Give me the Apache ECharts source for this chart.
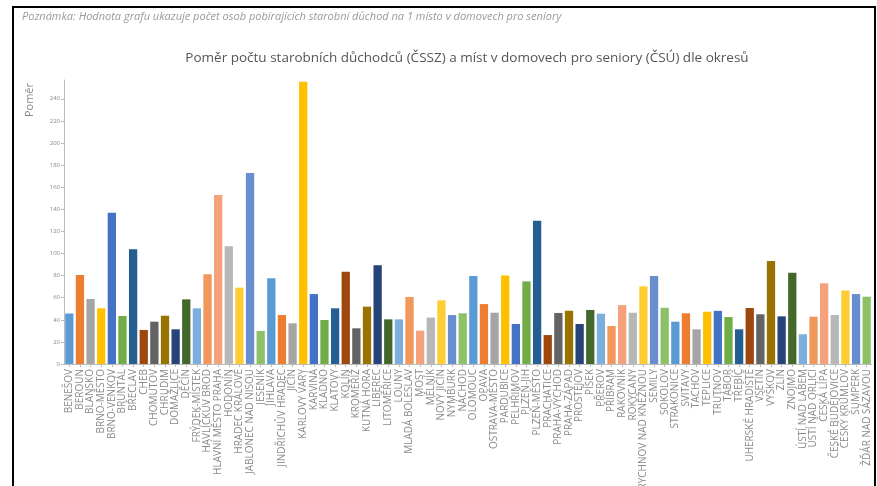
<!DOCTYPE html>
<html>
<head>
<meta charset="utf-8">
<script src="https://cdn.jsdelivr.net/npm/echarts@6/dist/echarts.min.js"></script>
<style>
html,body{margin:0;padding:0;background:#fff;}
#c{width:877px;height:486px;}
</style>
</head>
<body>
<div id="c"></div>
<script>
const noteText = 'Poznámka: Hodnota grafu ukazuje počet osob pobírajících starobní důchod na 1 místo v domovech pro seniory';
const titleText = 'Poměr počtu starobních důchodců (ČSSZ) a míst v domovech pro seniory (ČSÚ) dle okresů';
const yAxisTitle = 'Poměr';

const categories = [
 'BENEŠOV','BEROUN','BLANSKO','BRNO-MĚSTO','BRNO-VENKOV','BRUNTÁL','BŘECLAV','CHEB','CHOMUTOV','CHRUDIM',
 'DOMAŽLICE','DĚČÍN','FRÝDEK-MÍSTEK','HAVLÍČKŮV BROD','HLAVNÍ MĚSTO PRAHA','HODONÍN','HRADEC KRÁLOVÉ','JABLONEC NAD NISOU','JESENÍK','JIHLAVA',
 'JINDŘICHŮV HRADEC','JIČÍN','KARLOVY VARY','KARVINÁ','KLADNO','KLATOVY','KOLÍN','KROMĚŘÍŽ','KUTNÁ HORA','LIBEREC',
 'LITOMĚŘICE','LOUNY','MLADÁ BOLESLAV','MOST','MĚLNÍK','NOVÝ JIČÍN','NYMBURK','NÁCHOD','OLOMOUC','OPAVA',
 'OSTRAVA-MĚSTO','PARDUBICE','PELHŘIMOV','PLZEŇ-JIH','PLZEŇ-MĚSTO','PRACHATICE','PRAHA-VÝCHOD','PRAHA-ZÁPAD','PROSTĚJOV','PÍSEK',
 'PŘEROV','PŘÍBRAM','RAKOVNÍK','ROKYCANY','RYCHNOV NAD KNĚŽNOU','SEMILY','SOKOLOV','STRAKONICE','SVITAVY','TACHOV',
 'TEPLICE','TRUTNOV','TÁBOR','TŘEBÍČ','UHERSKÉ HRADIŠTĚ','VSETÍN','VYŠKOV','ZLÍN','ZNOJMO','ÚSTÍ NAD LABEM',
 'ÚSTÍ NAD ORLICÍ','ČESKÁ LÍPA','ČESKÉ BUDĚJOVICE','ČESKÝ KRUMLOV','ŠUMPERK','ŽĎÁR NAD SÁZAVOU'
];

const ratios = [
 45.7, 80.5, 58.8, 50.4, 136.9, 43.4, 103.8, 30.8, 38.3, 43.7,
 31.4, 58.5, 50.4, 81.2, 152.9, 106.6, 69.1, 172.9, 29.9, 77.6,
 44.3, 36.8, 255.5, 63.3, 39.8, 50.4, 83.4, 32.3, 51.9, 89.4,
 40.4, 40.4, 60.7, 30.2, 42.0, 57.6, 44.3, 45.9, 79.6, 54.2,
 46.4, 80.0, 36.2, 74.8, 129.7, 26.2, 46.2, 48.2, 36.2, 48.9,
 45.5, 34.4, 53.3, 46.4, 70.3, 79.6, 50.9, 38.3, 45.9, 31.4,
 47.3, 48.1, 42.5, 31.4, 50.7, 45.0, 93.2, 43.1, 82.6, 26.9,
 42.8, 73.0, 44.3, 66.5, 63.3, 60.9
];

const yTickStep = 20;
const yMax = 257;

const palette = [
 '#5B9BD5','#ED7D31','#A5A5A5','#FFC000','#4472C4','#70AD47','#255E91','#9E480E','#636363','#997300',
 '#264478','#43682B','#7CAFDD','#F1975A','#F5A27C','#B7B7B7','#FFCD33','#698ED0','#8CC168'
];

const FONT = "'Open Sans', 'DejaVu Sans', sans-serif";
const chart = echarts.init(document.getElementById('c'), null, {renderer: 'canvas'});
chart.setOption({
  animation: false,
  color: palette,
  grid: {left: 64, right: 5, top: 80, bottom: 122, containLabel: false, outerBoundsMode: 'none'},
  graphic: [
    {type: 'rect', shape: {x: 13, y: 7, width: 862, height: 500}, style: {fill: 'none', stroke: '#000', lineWidth: 2}, silent: true},
    {type: 'text', left: 22, top: 11, style: {text: noteText, font: "italic 11px " + FONT, fill: '#9a9a9a'}},
    {type: 'text', x: 467, y: 58, style: {text: titleText, font: "13.5px " + FONT, fill: '#555', textAlign: 'center', textVerticalAlign: 'middle'}},
    {type: 'text', x: 30, y: 100, rotation: Math.PI / 2, style: {text: yAxisTitle, font: "11px " + FONT, fill: '#888', textAlign: 'center', textVerticalAlign: 'middle'}}
  ],
  xAxis: {
    type: 'category',
    data: categories,
    axisLine: {lineStyle: {color: '#bbb', width: 1}},
    axisTick: {show: true, alignWithLabel: true, length: 3, lineStyle: {color: '#bbb'}},
    axisLabel: {interval: 0, rotate: 90, fontSize: 10, color: '#8a8a8a', fontFamily: FONT, margin: 5}
  },
  yAxis: {
    type: 'value',
    min: 0,
    max: yMax,
    interval: yTickStep,
    splitLine: {show: false},
    axisLine: {show: true, lineStyle: {color: '#bbb', width: 1}},
    axisTick: {show: true, length: 3, lineStyle: {color: '#bbb'}},
    axisLabel: {fontSize: 6, color: '#888', fontFamily: FONT, margin: 4, showMaxLabel: false}
  },
  series: [{
    type: 'bar',
    colorBy: 'data',
    data: ratios,
    barCategoryGap: '22%'
  }]
});
</script>
</body>
</html>
